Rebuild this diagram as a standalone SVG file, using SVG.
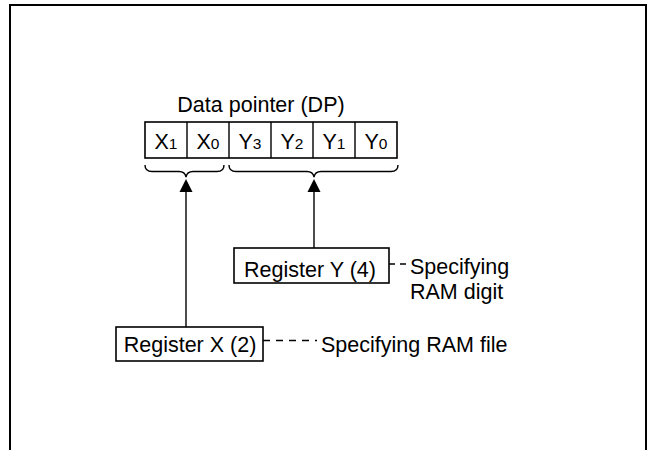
<svg xmlns="http://www.w3.org/2000/svg" width="649" height="450" viewBox="0 0 649 450">
<style>
text{font-family:"Liberation Sans",Arial,sans-serif;fill:#000;font-size:21.5px}
.sub{font-size:15.5px}
.box{fill:#fff;stroke:#000;stroke-width:1.6}
.ln{fill:none;stroke:#000;stroke-width:1.4}
.dash{fill:none;stroke:#000;stroke-width:1.3;stroke-dasharray:7 6}
.ah{fill:#000}
</style>
<rect width="649" height="450" fill="#fff"/>
<path d="M10,452 V5 H646 V452" fill="none" stroke="#000" stroke-width="2"/>
<g id="dp">
<text x="261" y="112" text-anchor="middle">Data pointer (DP)</text>
<rect class="box" x="145" y="122" width="252" height="36"/>
<path class="ln" d="M187,122V158M229,122V158M271,122V158M313,122V158M355,122V158"/>
<text x="166" y="148.5" text-anchor="middle">X<tspan class="sub">1</tspan></text>
<text x="208" y="148.5" text-anchor="middle">X<tspan class="sub">0</tspan></text>
<text x="250" y="148.5" text-anchor="middle">Y<tspan class="sub">3</tspan></text>
<text x="292" y="148.5" text-anchor="middle">Y<tspan class="sub">2</tspan></text>
<text x="334" y="148.5" text-anchor="middle">Y<tspan class="sub">1</tspan></text>
<text x="376" y="148.5" text-anchor="middle">Y<tspan class="sub">0</tspan></text>
</g>
<g id="braces">
<path class="ln" d="M145,165 Q145,171.5 152,171.5 H179 Q185,171.5 186,177 Q187,171.5 193,171.5 H217 Q224,171.5 224,165"/>
<path class="ln" d="M229,165 Q229,171.5 236,171.5 H307 Q313,171.5 314,177 Q315,171.5 321,171.5 H391 Q398,171.5 398,165"/>
</g>
<g id="regY">
<rect class="box" x="234" y="248" width="155" height="35"/>
<text x="310" y="276.5" text-anchor="middle">Register Y (4)</text>
</g>
<g id="regX">
<rect class="box" x="116" y="327" width="147" height="34"/>
<text x="190" y="351.5" text-anchor="middle">Register X (2)</text>
</g>
<g id="notes">
<text x="410" y="274">Specifying</text>
<text x="410" y="299">RAM digit</text>
<text x="321" y="351.5">Specifying RAM file</text>
</g>
<g id="connectors">
<path class="ln" d="M186,327 V191"/>
<polygon class="ah" points="186,179 179.5,192 192.5,192"/>
<path class="ln" d="M314,248 V191"/>
<polygon class="ah" points="314,179 307.5,192 320.5,192"/>
<path class="dash" d="M389,264 H408" style="stroke-dasharray:6 5"/>
<path class="dash" d="M263,340.5 H317"/>
</g>
</svg>
